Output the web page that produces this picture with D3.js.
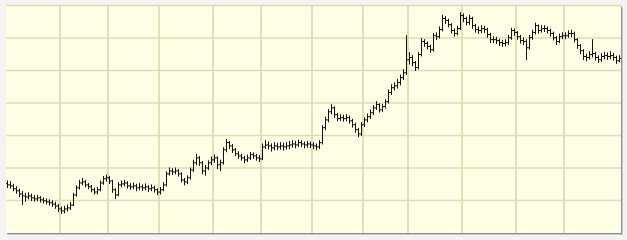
<!DOCTYPE html>
<html><head><meta charset="utf-8">
<script src="https://cdn.jsdelivr.net/npm/d3@7"></script>
<style>html,body{margin:0;padding:0;background:#f3f3f3;}svg{display:block;}</style>
</head><body><svg id="c" width="627" height="240"></svg>
<script>
const opens = [11.52,11.48,11.45,11.36,11.30,11.20,11.14,11.11,11.14,11.08,11.05,11.08,11.02,10.99,10.96,10.93,10.89,10.83,10.74,10.68,10.74,10.77,10.86,11.17,11.39,11.54,11.57,11.48,11.42,11.33,11.26,11.33,11.54,11.67,11.70,11.60,11.33,11.17,11.48,11.51,11.54,11.45,11.42,11.45,11.39,11.42,11.39,11.42,11.36,11.39,11.33,11.26,11.33,11.48,11.82,11.91,11.88,11.91,11.82,11.63,11.57,11.70,11.94,12.16,12.31,12.16,11.91,12.00,12.16,12.25,12.31,12.10,12.16,12.56,12.78,12.68,12.56,12.44,12.37,12.31,12.25,12.31,12.41,12.37,12.31,12.28,12.65,12.71,12.68,12.62,12.68,12.65,12.68,12.65,12.68,12.71,12.74,12.71,12.78,12.74,12.71,12.74,12.71,12.68,12.65,12.78,13.24,13.48,13.73,13.85,13.64,13.52,13.55,13.52,13.55,13.45,13.33,13.18,13.05,13.33,13.48,13.58,13.70,13.85,13.95,13.79,13.89,14.04,14.32,14.47,14.53,14.63,14.78,14.93,15.33,15.40,15.24,15.09,15.49,15.89,15.83,15.74,15.64,16.07,16.04,16.26,16.60,16.54,16.41,16.23,16.14,16.29,16.69,16.60,16.48,16.60,16.38,16.26,16.23,16.29,16.26,16.11,15.95,15.95,15.92,15.86,15.83,15.86,16.01,16.23,16.17,16.04,15.92,15.89,15.70,16.01,16.17,16.38,16.23,16.29,16.29,16.23,16.14,16.01,15.89,16.04,16.07,16.07,16.14,16.14,15.95,15.77,15.61,15.43,15.40,15.49,15.52,15.40,15.33,15.43,15.46,15.43,15.46,15.40,15.30];
const highs = [11.60,11.58,11.50,11.42,11.35,11.28,11.22,11.24,11.20,11.15,11.16,11.12,11.08,11.05,11.02,10.99,10.95,10.88,10.80,10.82,10.86,10.94,11.22,11.45,11.62,11.68,11.62,11.52,11.46,11.38,11.40,11.60,11.74,11.78,11.74,11.62,11.36,11.55,11.60,11.62,11.58,11.52,11.54,11.50,11.52,11.48,11.51,11.46,11.48,11.44,11.36,11.40,11.55,11.88,12.00,11.98,12.00,11.95,11.85,11.68,11.76,12.00,12.24,12.42,12.35,12.20,12.08,12.22,12.34,12.40,12.34,12.24,12.62,12.88,12.82,12.72,12.60,12.50,12.42,12.36,12.40,12.48,12.46,12.42,12.38,12.74,12.84,12.80,12.74,12.78,12.76,12.78,12.76,12.78,12.82,12.84,12.82,12.86,12.84,12.80,12.82,12.80,12.78,12.74,12.84,13.30,13.56,13.80,13.95,13.88,13.68,13.64,13.62,13.64,13.60,13.50,13.38,13.22,13.40,13.55,13.66,13.78,13.92,14.04,13.98,13.96,14.10,14.40,14.56,14.62,14.72,14.86,15.02,16.07,15.55,15.46,15.28,15.56,15.98,15.95,15.88,15.78,16.14,16.16,16.34,16.70,16.66,16.58,16.44,16.28,16.36,16.78,16.74,16.64,16.70,16.64,16.42,16.34,16.38,16.36,16.30,16.14,16.04,16.02,15.96,15.93,15.95,16.08,16.30,16.28,16.20,16.08,16.00,15.95,16.08,16.24,16.46,16.40,16.38,16.38,16.34,16.27,16.18,16.04,16.12,16.16,16.16,16.22,16.24,16.18,15.98,15.80,15.64,15.50,15.58,15.95,15.56,15.45,15.52,15.56,15.54,15.58,15.52,15.44,15.46];
const lows = [11.40,11.38,11.30,11.22,11.12,10.88,10.98,11.05,11.00,10.98,10.99,10.95,10.92,10.89,10.86,10.82,10.76,10.66,10.60,10.62,10.68,10.72,10.84,11.14,11.35,11.48,11.42,11.36,11.27,11.20,11.20,11.30,11.50,11.60,11.52,11.25,11.06,11.15,11.42,11.45,11.38,11.34,11.36,11.30,11.33,11.31,11.33,11.28,11.30,11.26,11.18,11.20,11.30,11.45,11.78,11.80,11.82,11.75,11.57,11.48,11.52,11.66,11.90,12.10,12.08,11.82,11.78,11.95,12.10,12.18,11.98,11.92,12.12,12.50,12.60,12.48,12.38,12.30,12.24,12.16,12.20,12.26,12.30,12.24,12.20,12.26,12.60,12.58,12.52,12.56,12.56,12.58,12.55,12.58,12.60,12.64,12.62,12.66,12.66,12.62,12.64,12.63,12.60,12.56,12.60,12.74,13.18,13.42,13.66,13.56,13.45,13.46,13.44,13.45,13.38,13.26,13.10,12.96,13.00,13.28,13.42,13.52,13.64,13.80,13.72,13.74,13.84,14.00,14.26,14.40,14.46,14.56,14.72,14.88,15.20,15.15,15.00,15.05,15.45,15.74,15.66,15.56,15.60,15.95,16.00,16.22,16.45,16.34,16.15,16.06,16.10,16.26,16.50,16.40,16.42,16.30,16.18,16.14,16.16,16.17,16.02,15.86,15.86,15.83,15.77,15.74,15.76,15.80,15.96,16.08,15.96,15.84,15.80,15.33,15.66,15.96,16.12,16.15,16.18,16.20,16.15,16.06,15.94,15.80,15.85,15.98,15.98,16.02,16.04,15.88,15.68,15.52,15.34,15.30,15.35,15.42,15.32,15.25,15.28,15.36,15.34,15.36,15.32,15.22,15.26];
const closes = [11.48,11.45,11.36,11.30,11.20,11.14,11.11,11.14,11.08,11.05,11.08,11.02,10.99,10.96,10.93,10.89,10.83,10.74,10.68,10.74,10.77,10.86,11.17,11.39,11.54,11.57,11.48,11.42,11.33,11.26,11.33,11.54,11.67,11.70,11.60,11.33,11.17,11.48,11.51,11.54,11.45,11.42,11.45,11.39,11.42,11.39,11.42,11.36,11.39,11.33,11.26,11.33,11.48,11.82,11.91,11.88,11.91,11.82,11.63,11.57,11.70,11.94,12.16,12.31,12.16,11.91,12.00,12.16,12.25,12.31,12.10,12.16,12.56,12.78,12.68,12.56,12.44,12.37,12.31,12.25,12.31,12.41,12.37,12.31,12.28,12.65,12.71,12.68,12.62,12.68,12.65,12.68,12.65,12.68,12.71,12.74,12.71,12.78,12.74,12.71,12.74,12.71,12.68,12.65,12.78,13.24,13.48,13.73,13.85,13.64,13.52,13.55,13.52,13.55,13.45,13.33,13.18,13.05,13.33,13.48,13.58,13.70,13.85,13.95,13.79,13.89,14.04,14.32,14.47,14.53,14.63,14.78,14.93,15.33,15.40,15.24,15.09,15.49,15.89,15.83,15.74,15.64,16.07,16.04,16.26,16.60,16.54,16.41,16.23,16.14,16.29,16.69,16.60,16.48,16.60,16.38,16.26,16.23,16.29,16.26,16.11,15.95,15.95,15.92,15.86,15.83,15.86,16.01,16.23,16.17,16.04,15.92,15.89,15.70,16.01,16.17,16.38,16.23,16.29,16.29,16.23,16.14,16.01,15.89,16.04,16.07,16.07,16.14,16.14,15.95,15.77,15.61,15.43,15.40,15.49,15.52,15.40,15.33,15.43,15.46,15.43,15.46,15.40,15.30,15.37];
const monthStarts = [18,34,51,69,85,102,119,134,152,170,186];
const priceTicks = [11,12,13,14,15,16,17];

const svg = d3.select('#c');
const L = 6, R = 621, T = 5.5, B = 233;
const n = closes.length;
const x = d3.scaleLinear().domain([-0.5, n - 0.5]).range([L, R]);
const y = d3.scaleLinear().domain([10, 17]).range([B, T]);

// shadow
svg.append('rect').attr('x', L + 2).attr('y', T + 2).attr('width', R - L).attr('height', B - T)
  .attr('fill', '#c8c8c8');
svg.append('rect').attr('x', L + 1).attr('y', T + 1).attr('width', R - L).attr('height', B - T)
  .attr('fill', '#909090');
svg.append('rect').attr('x', L).attr('y', T).attr('width', R - L).attr('height', B - T)
  .attr('fill', '#ffffe6');

const g = svg.append('g');
g.selectAll('line.h').data(priceTicks).join('line').attr('class', 'h')
  .attr('x1', L).attr('x2', R).attr('y1', d => y(d)).attr('y2', d => y(d))
  .attr('stroke', '#dcdcb0').attr('stroke-width', 1.7);
g.selectAll('line.v').data(monthStarts).join('line').attr('class', 'v')
  .attr('x1', d => x(d - 0.5)).attr('x2', d => x(d - 0.5)).attr('y1', T).attr('y2', B)
  .attr('stroke', '#dcdcb0').attr('stroke-width', 1.7);

const bars = svg.append('g').attr('stroke', '#111').attr('stroke-width', 1);
const idx = d3.range(n);
bars.selectAll('line.hl').data(idx).join('line').attr('class', 'hl')
  .attr('x1', i => x(i)).attr('x2', i => x(i))
  .attr('y1', i => y(highs[i]) - 0.5).attr('y2', i => y(lows[i]) + 0.5);
bars.selectAll('line.o').data(idx).join('line').attr('class', 'o')
  .attr('x1', i => x(i) - 1.5).attr('x2', i => x(i))
  .attr('y1', i => y(opens[i])).attr('y2', i => y(opens[i]));
bars.selectAll('line.cl').data(idx).join('line').attr('class', 'cl')
  .attr('x1', i => x(i)).attr('x2', i => x(i) + 1.5)
  .attr('y1', i => y(closes[i])).attr('y2', i => y(closes[i]));
</script></body></html>
